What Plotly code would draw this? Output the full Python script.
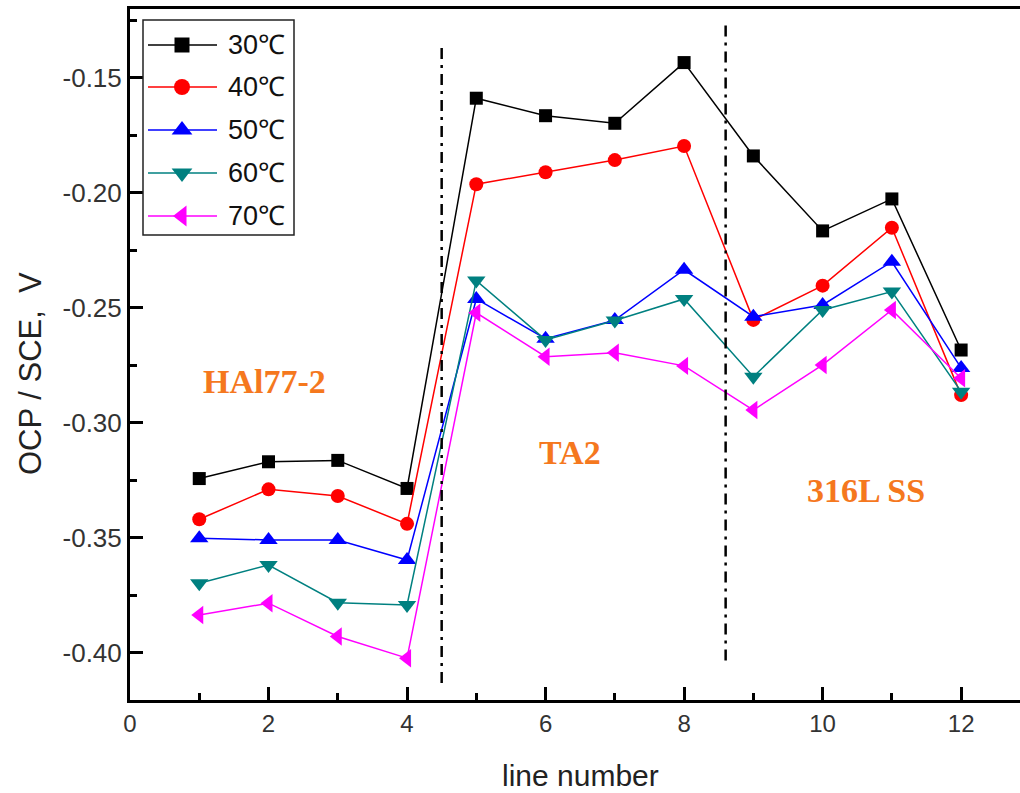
import plotly.graph_objects as go

# ---- data ----
line_number = [1, 2, 3, 4, 5, 6, 7, 8, 9, 10, 11, 12]
ocp_30 = [-0.3243, -0.3170, -0.3164, -0.3286, -0.1589, -0.1665, -0.1698, -0.1434, -0.1840, -0.2166, -0.2027, -0.2684]
ocp_40 = [-0.3420, -0.3290, -0.3319, -0.3440, -0.1963, -0.1911, -0.1858, -0.1797, -0.2553, -0.2404, -0.2152, -0.2880]
ocp_50 = [-0.3503, -0.3510, -0.3510, -0.3597, -0.2462, -0.2635, -0.2554, -0.2335, -0.2539, -0.2488, -0.2300, -0.2762]
ocp_60 = [-0.3698, -0.3619, -0.3783, -0.3793, -0.2382, -0.2640, -0.2556, -0.2462, -0.2800, -0.2510, -0.2430, -0.2865]
ocp_70 = [-0.3836, -0.3785, -0.3930, -0.4024, -0.2522, -0.2713, -0.2696, -0.2753, -0.2945, -0.2749, -0.2510, -0.2807]

series_names = ["30℃", "40℃", "50℃", "60℃", "70℃"]
series_values = [ocp_30, ocp_40, ocp_50, ocp_60, ocp_70]
series_colors = ["#000000", "#FF0000", "#0000FF", "#008080", "#FF00FF"]
series_symbols = ["square", "circle", "triangle-up", "triangle-down", "triangle-left"]
series_sizes = [13, 14, 16, 16, 16]

# material region separators (x position, y start, y end)
divider_x = [4.5, 8.6]
divider_y0 = [-0.4132, -0.4034]
divider_y1 = [-0.1358, -0.1258]

region_labels = ["HAl77-2", "TA2", "316L SS"]
region_x = [1.935, 6.35, 10.63]
region_y = [-0.2819, -0.3128, -0.3297]

x_tickvals = [0, 2, 4, 6, 8, 10, 12]
x_ticktext = ["0", "2", "4", "6", "8", "10", "12"]
y_tickvals = [-0.40, -0.35, -0.30, -0.25, -0.20, -0.15]
y_ticktext = ["-0.40", "-0.35", "-0.30", "-0.25", "-0.20", "-0.15"]

FONT = "Arial, Liberation Sans, sans-serif"

# ---- layout geometry (pixels) ----
W, H = 1020, 793
ML, MR, MT, MB = 130, 0, 9, 93
PLOT_X0, PLOT_X1 = ML, W - MR
PLOT_Y0, PLOT_Y1 = MT, H - MB

fig = go.Figure()
for i, (name, vals) in enumerate(zip(series_names, series_values)):
    fig.add_trace(go.Scatter(
        x=line_number, y=vals, name=name, mode="lines+markers",
        showlegend=False,
        line=dict(color=series_colors[i], width=1.5),
        marker=dict(symbol=series_symbols[i], size=series_sizes[i],
                    color=series_colors[i], opacity=1, line=dict(width=0)),
    ))

for xv, y0, y1 in zip(divider_x, divider_y0, divider_y1):
    fig.add_shape(type="line", xref="x", yref="y", x0=xv, x1=xv, y0=y0, y1=y1,
                  line=dict(color="#000000", width=2.5, dash="11px,6px,3px,6px"))

for txt, xv, yv in zip(region_labels, region_x, region_y):
    fig.add_annotation(x=xv, y=yv, xref="x", yref="y", text=f"<b>{txt}</b>",
                       showarrow=False, xanchor="center", yanchor="middle",
                       font=dict(family="Liberation Serif, Times New Roman, serif",
                                 size=34, color="#F5781E"))

# ---- legend drawn on a pixel-scaled overlay axis ----
leg_box = dict(x0=143, x1=294, y0=20, y1=235)
leg_rows = [45, 87, 130, 173, 216]
leg_line_x = [148, 217]
leg_marker_x = 182
leg_text_x = 226

fig.add_shape(type="rect", xref="paper", yref="paper",
              x0=(leg_box["x0"] - PLOT_X0) / (PLOT_X1 - PLOT_X0),
              x1=(leg_box["x1"] - PLOT_X0) / (PLOT_X1 - PLOT_X0),
              y0=1 - (leg_box["y1"] - PLOT_Y0) / (PLOT_Y1 - PLOT_Y0),
              y1=1 - (leg_box["y0"] - PLOT_Y0) / (PLOT_Y1 - PLOT_Y0),
              line=dict(color="#222222", width=1.5))
for i, (name, ry) in enumerate(zip(series_names, leg_rows)):
    fig.add_trace(go.Scatter(
        x=leg_line_x, y=[ry, ry], xaxis="x2", yaxis="y2",
        mode="lines", showlegend=False, hoverinfo="skip",
        line=dict(color=series_colors[i], width=1.5),
    ))
    fig.add_trace(go.Scatter(
        x=[leg_marker_x], y=[ry], xaxis="x2", yaxis="y2",
        mode="markers", showlegend=False, hoverinfo="skip",
        marker=dict(symbol=series_symbols[i], size=series_sizes[i] + 2,
                    color=series_colors[i], opacity=1, line=dict(width=0)),
    ))
    fig.add_annotation(x=leg_text_x, y=ry, xref="x2", yref="y2", text=name,
                       showarrow=False, xanchor="left", yanchor="middle",
                       font=dict(family=FONT, size=27, color="#111111"))

# axis titles as annotations (paper coords)
fig.add_annotation(xref="paper", yref="paper",
                   x=(580 - PLOT_X0) / (PLOT_X1 - PLOT_X0),
                   y=1 - (775 - PLOT_Y0) / (PLOT_Y1 - PLOT_Y0),
                   xanchor="center", yanchor="middle",
                   text="line number", showarrow=False,
                   font=dict(family=FONT, size=30, color="#222222"))
fig.add_annotation(xref="paper", yref="paper",
                   x=(30 - PLOT_X0) / (PLOT_X1 - PLOT_X0),
                   y=1 - (374 - PLOT_Y0) / (PLOT_Y1 - PLOT_Y0),
                   xanchor="center", yanchor="middle",
                   text="OCP / SCE,  V", textangle=-90, showarrow=False,
                   font=dict(family=FONT, size=31, color="#222222"))

fig.update_layout(
    width=W, height=H,
    margin=dict(l=ML, r=MR, t=MT, b=MB),
    plot_bgcolor="white", paper_bgcolor="white",
    font=dict(family=FONT, color="#000000"),
    showlegend=False,
    xaxis=dict(
        range=[0, 12.85], tickmode="array", tickvals=x_tickvals, ticktext=x_ticktext,
        showgrid=False, zeroline=False,
        showline=True, linecolor="#000000", linewidth=3, mirror=True,
        ticks="inside", ticklen=13, tickwidth=2.5, tickcolor="#000000",
        minor=dict(ticks="inside", ticklen=7, tickwidth=2.5, tickcolor="#000000",
                   tickvals=[1, 3, 5, 7, 9, 11]),
        tickfont=dict(family=FONT, size=24, color="#333333"),
    ),
    yaxis=dict(
        range=[-0.4206, -0.1201], tickmode="array", tickvals=y_tickvals, ticktext=y_ticktext,
        showgrid=False, zeroline=False,
        showline=True, linecolor="#000000", linewidth=3, mirror=False,
        ticks="inside", ticklen=13, tickwidth=2.5, tickcolor="#000000",
        minor=dict(ticks="inside", ticklen=7, tickwidth=2.5, tickcolor="#000000",
                   tickvals=[-0.375, -0.325, -0.275, -0.225, -0.175, -0.125]),
        tickfont=dict(family=FONT, size=26, color="#333333"),
    ),
    xaxis2=dict(range=[PLOT_X0, PLOT_X1], domain=[0, 1], overlaying="x", anchor="y2",
                visible=False, fixedrange=True),
    yaxis2=dict(range=[PLOT_Y1, PLOT_Y0], domain=[0, 1], overlaying="y", anchor="x2",
                visible=False, fixedrange=True),
)

fig.write_html("out.html")
